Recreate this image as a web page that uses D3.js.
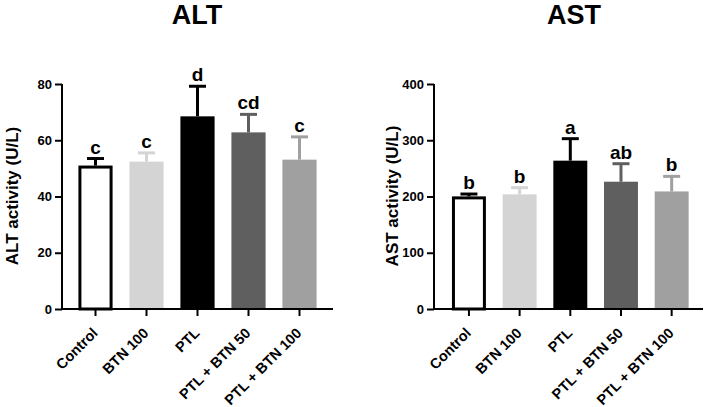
<!DOCTYPE html>
<html><head><meta charset="utf-8">
<script src="https://cdn.jsdelivr.net/npm/d3@7"></script>
<style>
body{margin:0;background:#fff;}
svg{display:block;font-family:"Liberation Sans",Arial,sans-serif;}
</style></head>
<body><svg id="c" width="709" height="407"></svg>
<script>
const categories = ["Control","BTN 100","PTL","PTL + BTN 50","PTL + BTN 100"];
const barColors = ["#ffffff","#d4d4d4","#000000","#5f5f5f","#a0a0a0"];
const errColors = ["#000000","#d4d4d4","#000000","#5f5f5f","#a0a0a0"];

const altMean = [51.0, 52.4, 68.5, 62.8, 53.1];
const altSD   = [2.5, 3.1, 10.7, 6.4, 8.1];
const altLetters = ["c","c","d","cd","c"];
const altTicks = [0,20,40,60,80];

const astMean = [200.2, 203.8, 263.7, 226.3, 209.0];
const astSD   = [4.2, 11.9, 39.1, 32.0, 26.8];
const astLetters = ["b","b","a","ab","b"];
const astTicks = [0,100,200,300,400];

const svg = d3.select("#c");

function panel(o){
  const g = svg.append("g");
  const y = d3.scaleLinear().domain([0,o.max]).range([309,84]);
  const x = d3.scaleBand().domain(categories).range(o.band).paddingInner(0.33).paddingOuter(0.165);
  // title
  g.append("text").attr("x",o.titleX).attr("y",24).attr("text-anchor","middle")
    .attr("font-size",27).attr("font-weight","bold").text(o.title);
  // y label
  g.append("text").attr("transform",`translate(${o.labelX},196) rotate(-90)`)
    .attr("text-anchor","middle").attr("font-size",17).attr("font-weight","bold").text(o.ylabel);
  // bars
  const data = categories.map((c,i)=>({c,i,m:o.mean[i],s:o.sd[i],l:o.letters[i]}));
  g.selectAll("rect.bar").data(data).join("rect").attr("class","bar")
    .attr("x",d=> d.i===0 ? x(d.c)+1.5 : x(d.c))
    .attr("width",d=> d.i===0 ? x.bandwidth()-3 : x.bandwidth())
    .attr("y",d=> d.i===0 ? y(d.m)+1.5 : y(d.m))
    .attr("height",d=> d.i===0 ? y(0)-y(d.m)-1.5 : y(0)-y(d.m))
    .attr("fill",d=>barColors[d.i])
    .attr("stroke",d=> d.i===0 ? "#000" : "none").attr("stroke-width",3);
  // error bars
  const cx = d=> x(d.c)+x.bandwidth()/2;
  g.selectAll("line.ev").data(data).join("line").attr("class","ev")
    .attr("x1",cx).attr("x2",cx).attr("y1",d=>y(d.m)).attr("y2",d=>y(d.m+d.s))
    .attr("stroke",d=>errColors[d.i]).attr("stroke-width",3);
  g.selectAll("line.ec").data(data).join("line").attr("class","ec")
    .attr("x1",d=>cx(d)-8.5).attr("x2",d=>cx(d)+8.5).attr("y1",d=>y(d.m+d.s)).attr("y2",d=>y(d.m+d.s))
    .attr("stroke",d=>errColors[d.i]).attr("stroke-width",3);
  // letters
  g.selectAll("text.lt").data(data).join("text").attr("class","lt")
    .attr("x",cx).attr("y",d=>y(d.m+d.s)-5).attr("text-anchor","middle")
    .attr("font-size",19).attr("font-weight","bold").text(d=>d.l);
  // y axis
  const ya = g.append("g").attr("transform",`translate(${o.axisX0},0)`)
    .call(d3.axisLeft(y).tickValues(o.ticks).tickSize(7).tickPadding(3));
  ya.select(".domain").attr("stroke-width",2).attr("d",`M0,${y(o.max)}V${y(0)+1}`);
  ya.selectAll(".tick line").attr("stroke-width",2);
  ya.selectAll(".tick text").attr("font-size",13).attr("font-weight","bold").attr("font-family","Liberation Sans, Arial, sans-serif").attr("fill","#000");
  // x axis
  const xa = g.append("g").attr("transform",`translate(0,309)`)
    .call(d3.axisBottom(x).tickSize(7).tickFormat(""));
  xa.select(".domain").attr("stroke-width",2).attr("d",`M${o.axisX0-1},0H${o.axisX1}`);
  xa.selectAll(".tick line").attr("stroke-width",2);
  g.selectAll("text.xl").data(data).join("text").attr("class","xl")
    .attr("transform",d=>`translate(${cx(d)+3},334) rotate(-45)`)
    .attr("text-anchor","end").attr("font-size",14.5).attr("font-weight","bold").text(d=>d.c);
}

panel({title:"ALT",titleX:197,ylabel:"ALT activity (U/L)",labelX:17.5,max:80,ticks:altTicks,
  mean:altMean,sd:altSD,letters:altLetters,band:[70,325],axisX0:62,axisX1:333});
panel({title:"AST",titleX:574,ylabel:"AST  activity (U/L)",labelX:398,max:400,ticks:astTicks,
  mean:astMean,sd:astSD,letters:astLetters,band:[443.6,697],axisX0:434,axisX1:703});
</script></body></html>
